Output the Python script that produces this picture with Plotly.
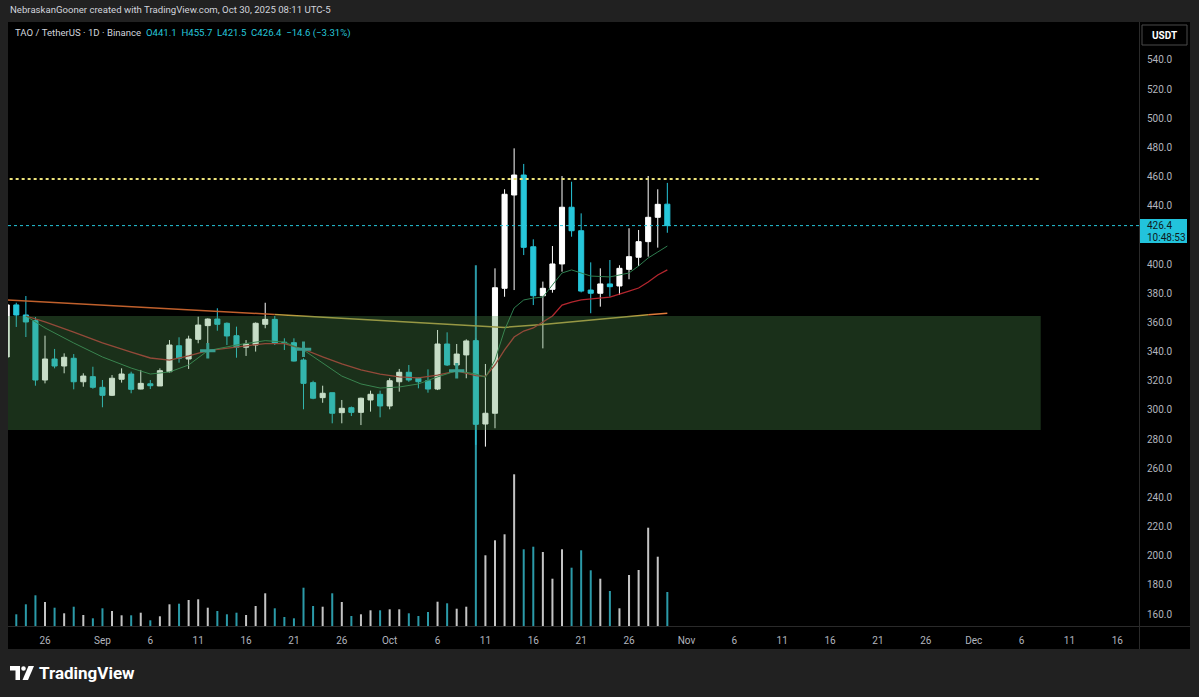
import plotly.graph_objects as go
import pandas as pd

# ---------------- DATA ----------------
start_date = "2025-08-22"
opens = [336.3, 372.0, 365.1, 361.2, 320.5, 334.9, 330.1, 335.4, 319.3, 322.8,
         315.5, 310.0, 321.0, 324.6, 314.3, 317.9, 316.4, 326.2, 344.0, 334.9,
         348.4, 357.8, 362.3, 359.4, 350.9, 343.0, 344.5, 358.7, 362.1, 346.4,
         346.1, 334.2, 318.7, 308.4, 311.8, 298.1, 301.5, 298.3, 306.8, 310.7,
         302.7, 319.3, 325.8, 321.7, 320.0, 314.3, 345.2, 330.8, 337.7, 347.5,
         290.3, 297.7, 383.4, 447.4, 461.1, 411.9, 378.3, 382.7, 400.1, 439.0,
         422.9, 382.2, 380.0, 386.4, 385.0, 396.4, 404.7, 415.4, 432.1, 441.1]
highs = [374.0, 373.5, 378.1, 363.7, 350.9, 341.8, 338.8, 338.3, 325.1, 329.6,
         320.5, 323.9, 328.5, 326.2, 327.4, 320.5, 328.5, 347.9, 349.8, 350.9,
         363.9, 362.8, 369.7, 360.0, 357.1, 347.9, 360.0, 373.5, 364.4, 349.1,
         349.1, 335.4, 320.0, 316.6, 311.8, 306.8, 302.3, 308.4, 313.2, 313.2,
         321.7, 328.1, 330.8, 322.3, 327.8, 354.8, 353.2, 345.2, 348.4, 349.0,
         331.5, 397.1, 451.3, 479.4, 468.7, 417.0, 388.0, 412.4, 460.4, 456.5,
         434.8, 401.2, 397.1, 402.8, 399.2, 424.6, 423.4, 460.4, 451.3, 455.7]
lows = [333.0, 356.9, 350.0, 316.6, 318.2, 328.5, 325.1, 314.1, 315.9, 314.5,
        301.8, 309.5, 318.7, 311.4, 314.1, 314.3, 316.4, 325.6, 332.4, 328.1,
        345.7, 345.7, 354.3, 344.5, 335.8, 337.0, 340.0, 356.0, 344.5, 341.1,
        333.2, 300.4, 307.3, 304.9, 290.8, 290.8, 295.8, 289.6, 298.8, 294.9,
        300.4, 312.5, 319.3, 314.8, 311.8, 313.6, 330.1, 323.5, 321.7, 276.0,
        274.8, 287.4, 377.6, 382.2, 406.2, 371.9, 342.2, 380.4, 394.8, 418.8,
        380.6, 366.3, 370.8, 377.6, 378.8, 389.6, 398.7, 405.1, 411.3, 421.5]
closes = [372.0, 365.1, 360.3, 320.5, 334.9, 330.1, 336.1, 319.3, 323.2, 315.5,
          310.0, 321.7, 324.6, 314.1, 318.2, 316.6, 326.9, 344.5, 335.4, 348.6,
          358.2, 362.3, 358.7, 350.7, 343.0, 345.2, 359.4, 362.1, 345.7, 346.1,
          333.5, 318.2, 308.0, 311.4, 297.7, 301.1, 298.3, 308.0, 310.7, 302.7,
          320.0, 325.8, 320.5, 319.3, 314.3, 345.2, 330.8, 338.3, 347.3, 290.1,
          297.7, 383.8, 447.9, 461.1, 411.5, 378.3, 383.4, 400.1, 439.0, 422.9,
          381.5, 380.0, 386.4, 384.5, 397.1, 405.1, 415.4, 432.1, 441.0, 426.4]
volumes_k = [15.0, 11.7, 21.7, 30.7, 24.0, 18.3, 12.7, 19.3, 11.0, 7.7,
             17.7, 15.0, 10.7, 10.7, 13.3, 5.7, 9.7, 21.7, 22.3, 26.0,
             26.7, 18.3, 15.0, 11.7, 13.3, 11.0, 20.0, 32.7, 17.7, 9.0,
             7.7, 38.3, 20.0, 19.3, 32.7, 24.0, 10.0, 11.7, 15.7, 15.7,
             16.7, 16.7, 12.7, 10.0, 14.0, 24.3, 22.7, 17.3, 19.3, 360.7,
             70.7, 85.7, 91.7, 151.7, 76.7, 79.3, 74.0, 47.3, 76.7, 58.3,
             75.7, 55.7, 47.3, 35.0, 17.7, 51.0, 56.0, 98.3, 69.3, 34.0]

ma_dates = ["2025-08-24", "2025-08-26", "2025-08-29", "2025-09-01", "2025-09-04",
            "2025-09-06", "2025-09-08", "2025-09-10", "2025-09-12", "2025-09-15",
            "2025-09-18", "2025-09-20", "2025-09-22", "2025-09-24", "2025-09-26",
            "2025-09-28", "2025-09-30", "2025-10-02", "2025-10-04", "2025-10-06",
            "2025-10-08", "2025-10-10", "2025-10-11", "2025-10-12", "2025-10-13",
            "2025-10-14", "2025-10-15", "2025-10-16", "2025-10-17", "2025-10-18",
            "2025-10-19", "2025-10-20", "2025-10-21", "2025-10-22", "2025-10-24",
            "2025-10-26", "2025-10-27", "2025-10-28", "2025-10-29", "2025-10-30"]
ma_fast = [364.4, 356.2, 345.9, 336.3, 328.7, 324.6, 326.0, 330.8, 340.6, 344.5,
           347.5, 346.5, 341.1, 332.2, 323.2, 317.8, 315.0, 315.7, 317.8, 322.6,
           326.9, 324.6, 322.4, 334.2, 354.8, 369.9, 375.4, 376.7, 377.4, 385.7,
           393.9, 396.0, 393.9, 391.8, 391.2, 393.9, 398.7, 404.2, 408.3, 412.4]
ma_mid = [364.4, 360.3, 353.4, 345.9, 339.7, 335.6, 334.2, 337.0, 340.6, 343.0,
          345.5, 345.5, 341.6, 336.3, 331.5, 327.4, 324.6, 322.6, 321.9, 323.9,
          326.7, 323.5, 322.9, 330.8, 341.1, 350.0, 354.1, 356.2, 360.3, 364.4,
          371.9, 374.0, 375.4, 376.0, 377.4, 381.5, 383.6, 387.7, 392.5, 396.0]
slow_dates = ["2025-08-22", "2025-08-29", "2025-09-05", "2025-09-12", "2025-09-19",
              "2025-09-26", "2025-10-03", "2025-10-10", "2025-10-13", "2025-10-17",
              "2025-10-21", "2025-10-26", "2025-10-28", "2025-10-30"]
ma_slow = [375.4, 373.0, 370.2, 367.8, 365.5, 362.8, 360.2, 357.5, 356.6, 358.6,
           361.0, 364.0, 365.3, 366.3]

cross_dates = ["2025-09-12", "2025-09-22", "2025-10-08"]
cross_prices = [340.6, 341.6, 326.8]

zone_top, zone_bottom = 364.4, 286.2
zone_end = "2025-12-08"
resistance = 458.4

price_ticks = [160, 180, 200, 220, 240, 260, 280, 300, 320, 340, 360, 380,
               400, 440, 460, 480, 500, 520, 540]
date_tick_vals = ["2025-08-26", "2025-09-01", "2025-09-06", "2025-09-11", "2025-09-16",
                  "2025-09-21", "2025-09-26", "2025-10-01", "2025-10-06", "2025-10-11",
                  "2025-10-16", "2025-10-21", "2025-10-26", "2025-11-01", "2025-11-06",
                  "2025-11-11", "2025-11-16", "2025-11-21", "2025-11-26", "2025-12-01",
                  "2025-12-06", "2025-12-11", "2025-12-16"]
date_tick_text = ["26", "Sep", "6", "11", "16", "21", "26", "Oct", "6", "11", "16",
                  "21", "26", "Nov", "6", "11", "16", "21", "26", "Dec", "6", "11", "16"]

# ---------------- LAYOUT HELPERS ----------------
W, H = 1199, 697
PL, PR, PT, PB = 8, 1139, 22, 626


def xp(px):
    return (px - PL) / (PR - PL)


def yp(py):
    return (PB - py) / (PB - PT)


UP = "#ffffff"
DOWN = "#26c6da"
FONT = "Roboto"

dates = pd.date_range(start_date, periods=len(opens), freq="D")
vol_colors = ["#c4c4c4" if c >= o else "#2b9aa8" for o, c in zip(opens, closes)]

fig = go.Figure()

# volume on base y axis (hidden), price on overlaying y2 (drawn above)
fig.add_trace(go.Bar(x=dates, y=volumes_k, marker=dict(color=vol_colors, line=dict(width=0)),
                     width=86400000 * 0.21, yaxis="y", showlegend=False, hoverinfo="skip"))

fig.add_trace(go.Candlestick(
    x=dates, open=opens, high=highs, low=lows, close=closes, yaxis="y2",
    increasing=dict(line=dict(color=UP, width=1), fillcolor=UP),
    decreasing=dict(line=dict(color=DOWN, width=1), fillcolor=DOWN),
    whiskerwidth=0, showlegend=False))

fig.add_trace(go.Scatter(x=slow_dates[:5], y=ma_slow[:5], mode="lines", yaxis="y2",
                         line=dict(color="#c0602c", width=1.5), showlegend=False))
fig.add_trace(go.Scatter(x=slow_dates[4:13], y=ma_slow[4:13], mode="lines", yaxis="y2",
                         line=dict(color="#b99a3e", width=1.5), showlegend=False))
fig.add_trace(go.Scatter(x=slow_dates[12:], y=ma_slow[12:], mode="lines", yaxis="y2",
                         line=dict(color="#e07a3a", width=1.5), showlegend=False))
fig.add_trace(go.Scatter(x=ma_dates, y=ma_mid, mode="lines", yaxis="y2",
                         line=dict(color="#b3262e", width=1.3), showlegend=False))
fig.add_trace(go.Scatter(x=ma_dates, y=ma_fast, mode="lines", yaxis="y2",
                         line=dict(color="#2e7d4f", width=1), showlegend=False))
fig.add_trace(go.Scatter(x=cross_dates, y=cross_prices, mode="markers", yaxis="y2",
                         marker=dict(symbol="cross-thin", size=11,
                                     line=dict(width=3, color="#2fa3ae")),
                         showlegend=False))

shapes = []
shapes.append(dict(type="rect", xref="paper", yref="paper", x0=xp(8), x1=xp(1190),
                   y0=yp(649), y1=yp(22), fillcolor="#000000", line=dict(width=0), layer="below"))
shapes.append(dict(type="line", xref="paper", yref="paper", x0=xp(8), x1=xp(1190),
                   y0=yp(626.5), y1=yp(626.5), line=dict(color="#2a2a2a", width=1)))
shapes.append(dict(type="line", xref="paper", yref="paper", x0=xp(1139.5), x1=xp(1139.5),
                   y0=yp(649), y1=yp(22), line=dict(color="#2a2a2a", width=1)))
shapes.append(dict(type="rect", xref="x", yref="y2", x0="2025-08-01", x1=zone_end,
                   y0=zone_bottom, y1=zone_top, fillcolor="rgba(80,150,80,0.32)",
                   line=dict(width=0), layer="above"))
shapes.append(dict(type="line", xref="x", yref="y2", x0="2025-08-01", x1=zone_end,
                   y0=resistance, y1=resistance, line=dict(color="#ece27a", width=2, dash="dot")))
shapes.append(dict(type="line", xref="paper", yref="y2", x0=0, x1=1,
                   y0=closes[-1], y1=closes[-1], line=dict(color=DOWN, width=1, dash="dot")))
shapes.append(dict(type="rect", xref="paper", yref="paper", x0=xp(1140), x1=xp(1187),
                   y0=yp(243), y1=yp(219), fillcolor="#22c3dc", line=dict(width=0)))
shapes.append(dict(type="rect", xref="paper", yref="paper", x0=xp(1142), x1=xp(1187),
                   y0=yp(45), y1=yp(25), fillcolor="#000000",
                   line=dict(color="#4a4a4a", width=1)))


def P(px, py):
    return f"{xp(px):.5f},{yp(py):.5f}"


shapes.append(dict(type="path", xref="paper", yref="paper",
                   path=f"M {P(10,666)} L {P(20,666)} L {P(20,680)} L {P(15.5,680)} L {P(15.5,670.5)} L {P(10,670.5)} Z",
                   fillcolor="#ffffff", line=dict(width=0)))
shapes.append(dict(type="circle", xref="paper", yref="paper", x0=xp(21.2), x1=xp(25.8),
                   y0=yp(670.8), y1=yp(666.2), fillcolor="#ffffff", line=dict(width=0)))
shapes.append(dict(type="path", xref="paper", yref="paper",
                   path=f"M {P(28.5,666)} L {P(34,666)} L {P(28,680)} L {P(22.5,680)} Z",
                   fillcolor="#ffffff", line=dict(width=0)))

chg = closes[-1] - closes[-2]
pct = chg / closes[-2] * 100
legend_text = (f"<span style='color:#d1d4dc'>TAO / TetherUS · 1D · Binance</span>  "
               f"<span style='color:#26c6da'>O{opens[-1]:.1f}  H{highs[-1]:.1f}  L{lows[-1]:.1f}  "
               f"C{closes[-1]:.1f}  −{abs(chg):.1f} (−{abs(pct):.2f}%)</span>")

annotations = [
    dict(text="NebraskanGooner created with TradingView.com, Oct 30, 2025 08:11 UTC-5",
         xref="paper", yref="paper", x=xp(8), y=yp(10), xanchor="left", yanchor="middle",
         showarrow=False, font=dict(family=FONT, size=9.6, color="#d1d4dc")),
    dict(text=legend_text, xref="paper", yref="paper", x=xp(13), y=yp(33),
         xanchor="left", yanchor="middle", showarrow=False,
         font=dict(family=FONT, size=9.6, color="#d1d4dc")),
    dict(text="<b>USDT</b>", xref="paper", yref="paper", x=xp(1164.5), y=yp(35),
         xanchor="center", yanchor="middle", showarrow=False,
         font=dict(family=FONT, size=10, color="#ffffff")),
    dict(text=f"{closes[-1]:.1f}", xref="paper", yref="paper", x=xp(1145), y=yp(225),
         xanchor="left", yanchor="middle", showarrow=False,
         font=dict(family=FONT, size=10, color="#0e1a20")),
    dict(text="10:48:53", xref="paper", yref="paper", x=xp(1145), y=yp(237),
         xanchor="left", yanchor="middle", showarrow=False,
         font=dict(family=FONT, size=10, color="#0e1a20")),
    dict(text="<b>TradingView</b>", xref="paper", yref="paper", x=xp(37), y=yp(673),
         xanchor="left", yanchor="middle", showarrow=False,
         font=dict(family=FONT, size=17, color="#ffffff")),
]

fig.update_layout(
    width=W, height=H,
    margin=dict(l=PL, r=W - PR, t=PT, b=H - PB, autoexpand=False),
    paper_bgcolor="#212121", plot_bgcolor="#000000",
    boxgap=0.24,
    showlegend=False,
    shapes=shapes, annotations=annotations,
    xaxis=dict(type="date", range=["2025-08-22 03:14", "2025-12-18 06:22"],
               rangeslider=dict(visible=False), showgrid=False, zeroline=False,
               tickvals=date_tick_vals, ticktext=date_tick_text,
               ticks="outside", ticklen=5, tickcolor="rgba(0,0,0,0)",
               tickfont=dict(family=FONT, size=10, color="#b2b5be"), showline=False),
    yaxis=dict(range=[0, PB - PT], visible=False, showgrid=False, zeroline=False),
    yaxis2=dict(overlaying="y", side="right", range=[151.77, 566.06], showgrid=False,
                zeroline=False, tickvals=price_ticks, tickformat=".1f",
                ticks="outside", ticklen=5, tickcolor="rgba(0,0,0,0)",
                tickfont=dict(family=FONT, size=10, color="#b2b5be"), showline=False),
)

fig.write_html("out.html", config={"displayModeBar": False},
               post_script="document.body.style.margin='0';")
